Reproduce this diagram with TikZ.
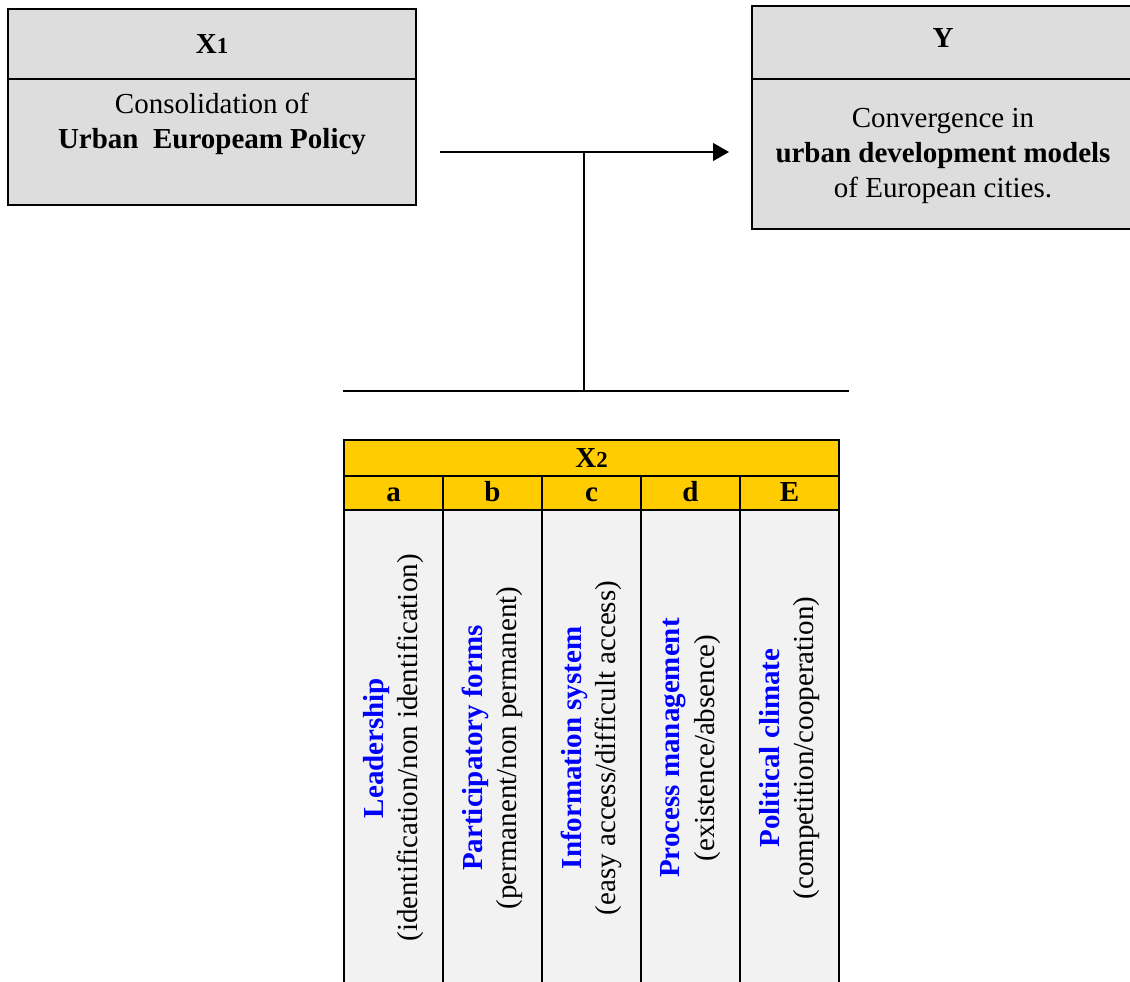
\documentclass[tikz,border=0pt]{standalone}
\usepackage{fontspec}
\setmainfont{Liberation Serif}
\usetikzlibrary{arrows.meta}
\definecolor{boxgray}{HTML}{DDDDDD}
\definecolor{headgold}{HTML}{FFCC00}
\definecolor{cellgray}{HTML}{F2F2F2}
\definecolor{factorblue}{HTML}{0000FF}
\newcommand{\varsub}[1]{{\fontsize{13}{13}\selectfont\bfseries #1}}
\newcommand{\factor}[2]{\textcolor{factorblue}{\bfseries #1}\\ #2}

\begin{document}
\begin{tikzpicture}[x=0.02cm, y=-0.02cm,
        every node/.style={font=\fontsize{16.5}{20}\selectfont, inner sep=0pt},
        frame/.style={draw, line width=1.1pt},
        link/.style={line width=1.1pt},
        letter/.style={text height=1.6ex, text depth=0.2ex},
        factorlabel/.style={rotate=90, align=center, font=\fontsize{16.5}{19.5}\selectfont}]
        \useasboundingbox (0,0) rectangle (1130,982);

        % independent and dependent variable
        \draw[frame, fill=boxgray] (8,9) rectangle (416,205);
        \draw[frame] (8,79) -- (416,79);
        \draw[frame, fill=boxgray] (752,6) rectangle (1136,229);
        \draw[frame] (752,79) -- (1136,79);

        \node (x1) at (212,44) {\textbf{X}\varsub{1}};
        \node (x1text) [align=center] at (212,124) {Consolidation of\\ \textbf{Urban\ \ Europeam Policy}};
        \node (y) at (943,38) {\textbf{Y}};
        \node (ytext) [align=center] at (943,156) {Convergence in\\ \textbf{urban development models}\\ of European cities.};

        % moderating factors
        \fill[headgold] (344,440) rectangle (839,510);
        \fill[cellgray] (344,510) rectangle (839,990);
        \draw[frame] (344,990) -- (344,440) -- (839,440) -- (839,990);
        \draw[frame] (344,476) -- (839,476);
        \draw[frame] (344,510) -- (839,510);
        \foreach \x in {443,542,641,740}
                \draw[frame] (\x,476) -- (\x,990);

        \node (x2) [letter] at (591.5,462) {\textbf{X}\varsub{2}};
        \node (cola) [letter] at (393.5,496) {\textbf{a}};
        \node (colb) [letter] at (492.5,496) {\textbf{b}};
        \node (colc) [letter] at (591.5,496) {\textbf{c}};
        \node (cold) [letter] at (690.5,496) {\textbf{d}};
        \node (cole) [letter] at (789.5,496) {\textbf{E}};

        \node (leader) [factorlabel] at (393.5,748) {\factor{Leadership}{(identification/non identification)}};
        \node (partic) [factorlabel] at (492.5,748) {\factor{Participatory forms}{(permanent/non permanent)}};
        \node (inform) [factorlabel] at (591.5,748) {\factor{Information system}{(easy access/difficult access)}};
        \node (process) [factorlabel] at (690.5,748) {\factor{Process management}{(existence/absence)}};
        \node (climate) [factorlabel] at (789.5,748) {\factor{Political climate}{(competition/cooperation)}};

        % connectors
        \coordinate (fromx1) at (440,152);
        \coordinate (toy) at (729,152);
        \coordinate (joint) at (584,152);
        \coordinate (foot) at (584,391);
        \coordinate (barleft) at (343,391);
        \coordinate (barright) at (849,391);
        \draw[link, -{Triangle[length=9pt,width=10pt]}] (fromx1) -- (toy);
        \draw[link] (joint) -- (foot);
        \draw[link] (barleft) -- (barright);
\end{tikzpicture}
\end{document}
